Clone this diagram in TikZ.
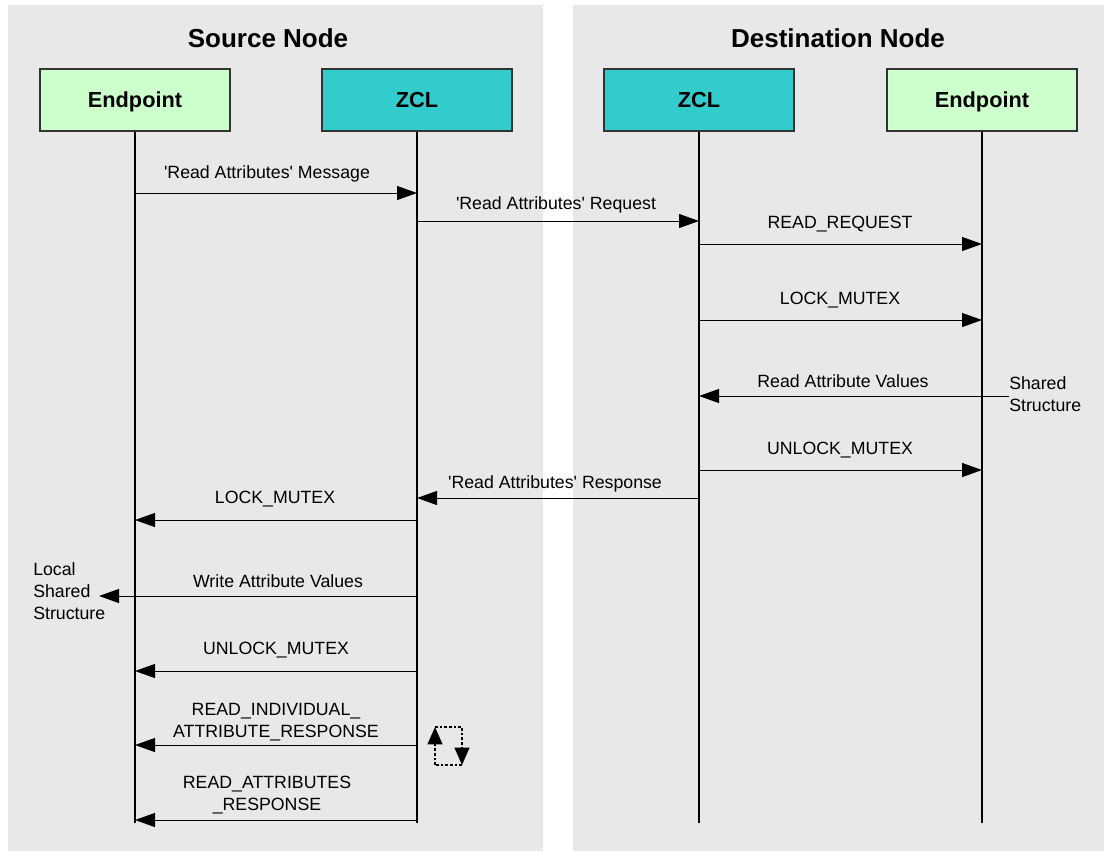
\documentclass[tikz,border=0pt]{standalone}
\usepackage{fontspec}
\setmainfont{Liberation Sans}[Ligatures=TeXOff]
\usetikzlibrary{arrows.meta}
\definecolor{epgreen}{HTML}{CCFFCC}
\definecolor{zclteal}{HTML}{33CCCC}
\tikzset{
  panel/.style={fill=black!9},
  title/.style={anchor=center, font=\fontsize{19.5}{22}\selectfont\bfseries},
  party/.style={draw=black!80, line width=1.1pt, minimum width=142.5pt, minimum height=46.5pt,
    text height=11.7pt, text depth=0pt, font=\fontsize{16.3}{18}\selectfont\bfseries},
  life/.style={line width=1.5pt},
  msg/.style={line width=0.75pt, -{Triangle[length=15pt,width=10.5pt]}},
  lbl/.style={anchor=center, align=center, yshift=-1.5pt, font=\fontsize{13.3}{16.5}\selectfont},
  side/.style={anchor=west, align=left, inner sep=0pt, font=\fontsize{13.3}{16.5}\selectfont},
  loopline/.style={line width=1.6pt, dash pattern=on 2pt off 1.5pt}
}
\begin{document}
\begin{tikzpicture}[x=0.75pt,y=-0.75pt]
\useasboundingbox (0,0) rectangle (1104,851);
\fill[panel] (8,5) rectangle (543,851);
\fill[panel] (573,5) rectangle (1104,851);

\node[title] (src) at (268,38) {Source Node};
\node[title] (dst) at (838,38) {Destination Node};

\node[party, fill=epgreen] (ep1) at (135,100) {Endpoint};
\node[party, fill=zclteal] (zcl1) at (417,100) {ZCL};
\node[party, fill=zclteal] (zcl2) at (699,100) {ZCL};
\node[party, fill=epgreen] (ep2) at (982,100) {Endpoint};

\coordinate (ep1end) at (135,823);
\coordinate (zcl1end) at (417,823);
\coordinate (zcl2end) at (699,823);
\coordinate (ep2end) at (982,823);
\draw[life] (ep1) -- (ep1end);
\draw[life] (zcl1) -- (zcl1end);
\draw[life] (zcl2) -- (zcl2end);
\draw[life] (ep2) -- (ep2end);

\node[side] (ss) at (1009,394) {Shared\\Structure};
\node[side] (lss) at (33,591) {Local\\Shared\\Structure};
\coordinate (lssin) at (99,596);

\draw[msg] (ep1 |- 0,193) -- (zcl1 |- 0,193);
\draw[msg] (zcl1 |- 0,221) -- (zcl2 |- 0,221);
\draw[msg] (zcl2 |- 0,244) -- (ep2 |- 0,244);
\draw[msg] (zcl2 |- 0,320) -- (ep2 |- 0,320);
\draw[msg] (ss.west |- 0,396) -- (zcl2 |- 0,396);
\draw[msg] (zcl2 |- 0,470) -- (ep2 |- 0,470);
\draw[msg] (zcl2 |- 0,498) -- (zcl1 |- 0,498);
\draw[msg] (zcl1 |- 0,520) -- (ep1 |- 0,520);
\draw[msg] (zcl1 |- 0,596) -- (lssin);
\draw[msg] (zcl1 |- 0,671) -- (ep1 |- 0,671);
\draw[msg] (zcl1 |- 0,745) -- (ep1 |- 0,745);
\draw[msg] (zcl1 |- 0,820) -- (ep1 |- 0,820);

\node[lbl] (l1) at (267,172) {'Read Attributes' Message};
\node[lbl] (l2) at (556,203) {'Read Attributes' Request};
\node[lbl] (l3) at (840,222) {READ\_REQUEST};
\node[lbl] (l4) at (840,298) {LOCK\_MUTEX};
\node[lbl] (l5) at (843,379) {Read Attribute Values};
\node[lbl] (l6) at (840,448) {UNLOCK\_MUTEX};
\node[lbl] (l7) at (555,482) {'Read Attributes' Response};
\node[lbl] (l8) at (275,497) {LOCK\_MUTEX};
\node[lbl] (l9) at (278,579) {Write Attribute Values};
\node[lbl] (l10) at (276,648) {UNLOCK\_MUTEX};
\node[lbl] (l11) at (276,720) {READ\_INDIVIDUAL\_\\ATTRIBUTE\_RESPONSE};
\node[lbl] (l12) at (267,793) {READ\_ATTRIBUTES\\\_RESPONSE};

\draw[loopline, -{Triangle[length=13pt,width=11pt]}] (435,765) -- (435,727);
\draw[loopline, -{Triangle[length=13pt,width=11pt]}] (435,727) -- (462,727) -- (462,765);
\draw[loopline] (462,765) -- (435,765);
\end{tikzpicture}
\end{document}
